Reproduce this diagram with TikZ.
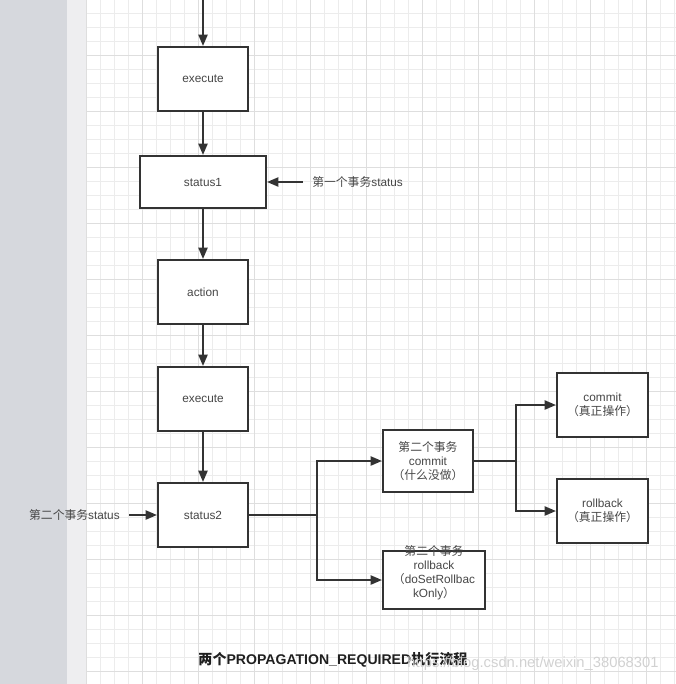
\documentclass[tikz,border=0pt]{standalone}
\usepackage{fontspec}
\setmainfont{Liberation Sans}
\newfontfamily\cjk{Noto Sans CJK SC}
\usepackage{xcolor}
\usepackage{tikz}
\usetikzlibrary{arrows.meta,positioning}

\definecolor{sidegray}{RGB}{214,216,221}
\definecolor{sidelight}{RGB}{238,238,240}
\definecolor{gridminor}{RGB}{236,236,236}
\definecolor{gridmajor}{RGB}{222,222,222}
\definecolor{ink}{RGB}{51,51,51}

\tikzset{
  box/.style={draw=ink, line width=0.05cm, fill=white, minimum width=2.25cm,
    minimum height=1.6cm, inner sep=0pt, align=center, text=black!72,
    font=\fontsize{8.4}{10}\selectfont},
  note/.style={text=black!72, inner sep=0pt, font=\fontsize{8.4}{10}\selectfont},
  flow/.style={draw=ink, line width=0.05cm, -{Triangle[length=8pt,width=6.4pt]}}
}

\begin{document}
\begin{tikzpicture}[x=0.025cm, y=-0.025cm]
  \useasboundingbox (0,0) rectangle (676,684);
  % side strip and grid paper
  \fill[sidegray] (0,0) rectangle (67,684);
  \fill[sidelight] (67,0) rectangle (86,684);
  \foreach \x in {86,100,...,674} \draw[gridminor, line width=0.5pt] (\x,0) -- (\x,684);
  \foreach \y in {13,27,...,684} \draw[gridminor, line width=0.5pt] (86,\y) -- (676,\y);
  \foreach \x in {86,142,...,646} \draw[gridmajor, line width=0.5pt] (\x,0) -- (\x,684);
  \foreach \y in {55,111,...,671} \draw[gridmajor, line width=0.5pt] (86,\y) -- (676,\y);

  % main column
  \coordinate (entry) at (203,0);
  \node[box] (exec1) at (203,79) {execute};
  \node[box, minimum width=3.15cm, minimum height=1.3cm] (status1) at (203,182) {status1};
  \node[box] (action) at (203,292) {action};
  \node[box] (exec2) at (203,399) {execute};
  \node[box] (status2) at (203,515) {status2};

  % side notes
  \node[note, anchor=west, inner xsep=6.4pt] (note1) at (303,182) {{\cjk 第一个事务}status};
  \node[note, anchor=east, inner xsep=6.4pt] (note2) at (129,515) {{\cjk 第二个事务}status};

  % second transaction
  \node[box, minimum height=1.55cm] (commit2) at (428,461)
    {{\cjk 第二个事务}\\commit\\{\cjk （什么没做）}};
  \node[box, minimum width=2.55cm, minimum height=1.45cm] (rollback2) at (434,580) {};
  \node[note, align=center] (rollback2txt) at (434,573)
    {{\cjk 第二个事务}\\rollback\\{\cjk （}doSetRollbac\\kOnly{\cjk ）}};

  % real operations
  \node[box, minimum width=2.275cm] (commit) at (602.5,405) {commit\\{\cjk （真正操作）}};
  \node[box, minimum width=2.275cm] (rollback) at (602.5,511) {rollback\\{\cjk （真正操作）}};

  \draw[flow] (entry) -- (exec1);
  \draw[flow] (exec1) -- (status1);
  \draw[flow] (status1) -- (action);
  \draw[flow] (action) -- (exec2);
  \draw[flow] (exec2) -- (status2);
  \draw[flow] (note1.west) -- (status1.east);
  \draw[flow] (note2.east) -- (status2.west);
  \draw[flow] (status2.east) -- ++(68,0) coordinate (fork1) |- (commit2.west);
  \draw[flow] (fork1) |- (rollback2.west);
  \draw[flow] (commit2.east) -- ++(42,0) coordinate (fork2) |- (commit.west);
  \draw[flow] (fork2) |- (rollback.west);

  % caption and watermark
  \node[text=black!88, font=\bfseries\fontsize{10}{12}\selectfont] (title) at (333,660)
    {{\cjk\bfseries 两个}PROPAGATION\_REQUIRED{\cjk\bfseries 执行流程}};
  \node[text=black!18, font=\fontsize{10.5}{12}\selectfont] (mark) at (533,664)
    {https://blog.csdn.net/weixin\_38068301};
\end{tikzpicture}
\end{document}
